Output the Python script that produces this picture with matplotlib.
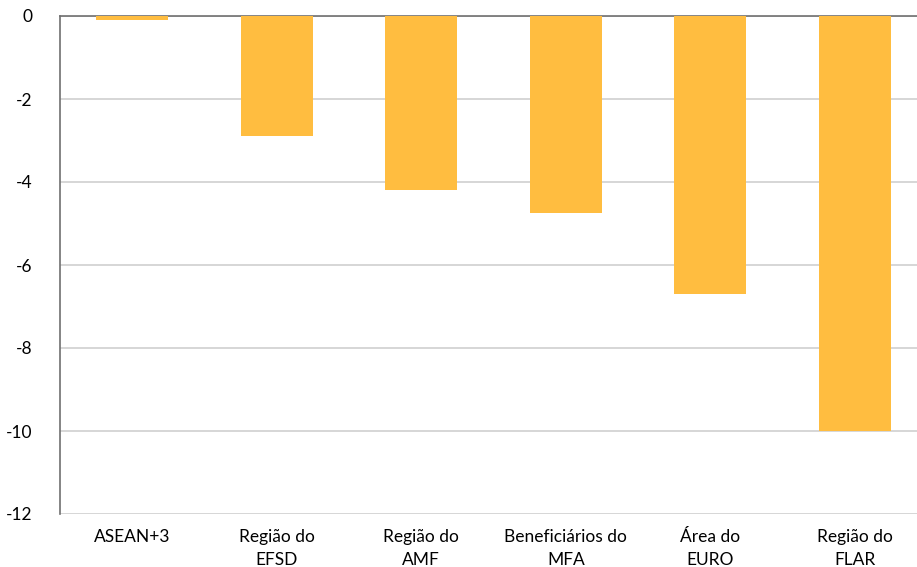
import matplotlib
matplotlib.use("Agg")
import matplotlib.pyplot as plt

categories = ["ASEAN+3", "Região do\nEFSD", "Região do\nAMF", "Beneficiários do\nMFA", "Área do\nEURO", "Região do\nFLAR"]
values = [-0.1, -2.9, -4.2, -4.75, -6.7, -10.0]
yticks = [0, -2, -4, -6, -8, -10, -12]

plt.rcParams['font.family'] = ['Lato', 'DejaVu Sans']

fig = plt.figure(figsize=(9.17, 5.67), dpi=100)
ax = fig.add_axes([60/917, 1-514/567, 1-60/917, (514-16)/567])

x = list(range(len(categories)))
ax.bar(x, values, width=0.5, color="#FFBD40", zorder=3)

ax.set_ylim(-12, 0)
ax.set_xlim(-0.5, 5.43)
ax.set_yticks(yticks)
ax.set_yticklabels([str(v) for v in yticks], fontsize=12.5)
ax.grid(axis='y', color='#D0D0D0', linewidth=1.2, zorder=0)
ax.set_xticks(x)
ax.set_xticklabels(categories, fontsize=12.5, va='top', linespacing=1.5)
ax.tick_params(axis='x', length=0, pad=11)
ax.tick_params(axis='y', length=0, pad=20)

for s in ['right', 'bottom']:
    ax.spines[s].set_visible(False)
ax.spines['left'].set_color('#707070')
ax.spines['top'].set_color('#707070')
ax.spines['left'].set_linewidth(1.2)
ax.spines['top'].set_linewidth(1.2)

fig.savefig("out.png", dpi=100)
